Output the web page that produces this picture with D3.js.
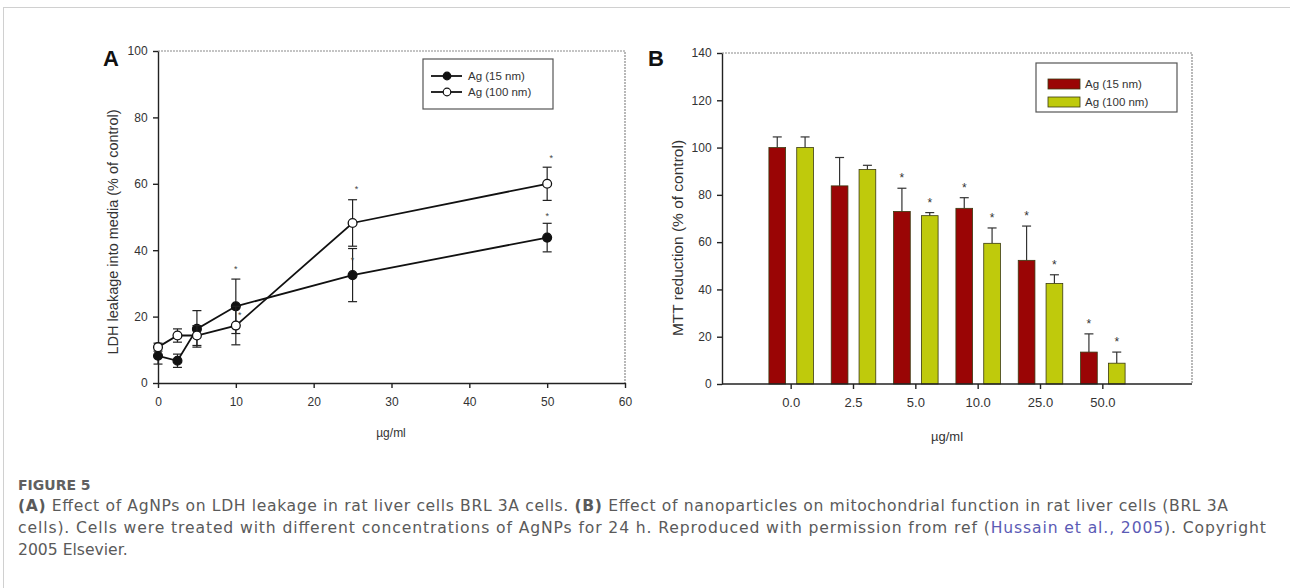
<!DOCTYPE html>
<html><head><meta charset="utf-8">
<script src="https://cdn.jsdelivr.net/npm/d3@7"></script>
<style>
body{margin:0;background:#fff;}
svg{display:block;}
</style></head>
<body>
<svg id="c" width="1290" height="588"></svg>
<script>
// ---------- Data: panel A (LDH leakage) ----------
const concA = [0, 2.5, 5, 10, 25, 50];
const ldh15 = [8.2, 6.7, 16.3, 23.1, 32.5, 43.8];
const ldh15Err = [2.5, 2.0, 5.5, 8.2, 8.0, 4.3];
const ldh100 = [10.8, 14.3, 14.3, 17.3, 48.2, 60.0];
const ldh100Err = [1.2, 2.0, 3.0, 5.8, 7.0, 5.0];
const ldh15Star = [null, null, null, 34.6, 37.3, 50.6];
const ldh100Star = [null, null, null, 20.9, 58.8, 68.0];
const xTicksA = [0, 10, 20, 30, 40, 50, 60];
const yTicksA = [0, 20, 40, 60, 80, 100];

// ---------- Data: panel B (MTT reduction) ----------
const catsB = ["0.0", "2.5", "5.0", "10.0", "25.0", "50.0"];
const mtt15 = [100, 83.8, 73.0, 74.3, 52.3, 13.5];
const mtt15Err = [4.5, 12.0, 9.8, 4.5, 14.5, 7.7];
const mtt100 = [100, 90.7, 71.2, 59.5, 42.5, 8.8];
const mtt100Err = [4.5, 1.8, 1.3, 6.5, 3.7, 4.7];
const mtt15Star = [false, false, true, true, true, true];
const mtt100Star = [false, false, true, true, true, true];
const yTicksB = [0, 20, 40, 60, 80, 100, 120, 140];
const seriesNames = ["Ag (15 nm)", "Ag (100 nm)"];

const svg = d3.select("#c");
const axisFont = "Liberation Sans, Arial, sans-serif";
const red = "#9a0505", green = "#bfca0c";

// page border
svg.append("line").attr("x1",3).attr("x2",1290).attr("y1",7.5).attr("y2",7.5).attr("stroke","#d0d0d0");
svg.append("line").attr("x1",3.5).attr("x2",3.5).attr("y1",7).attr("y2",588).attr("stroke","#d0d0d0");

// ================= Panel A =================
const xA = d3.scaleLinear().domain([0,60]).range([158,625]);
const yA = d3.scaleLinear().domain([0,100]).range([383,51]);
const gA = svg.append("g");

gA.append("path").attr("d",`M${xA(0)},${yA(100)}H${xA(60)}V${yA(0)}`)
  .attr("fill","none").attr("stroke","#8a8a8a").attr("stroke-width",1.2).attr("stroke-dasharray","2,1");

const axA = gA.append("g").attr("transform",`translate(0,${yA(0)})`)
  .call(d3.axisBottom(xA).tickValues(xTicksA).tickSize(5).tickSizeOuter(0));
const ayA = gA.append("g").attr("transform",`translate(${xA(0)},0)`)
  .call(d3.axisLeft(yA).tickValues(yTicksA).tickSize(5).tickSizeOuter(0));
[axA, ayA].forEach(a=>{
  a.selectAll("path,line").attr("stroke","#222").attr("stroke-width",1.4);
  a.selectAll("text").attr("font-family",axisFont).attr("font-size",12).attr("fill","#333");
});
axA.selectAll("text").attr("dy","1.25em");
ayA.selectAll("text").attr("dx","-0.2em");

gA.append("text").attr("x",391).attr("y",437).attr("text-anchor","middle")
  .attr("font-family",axisFont).attr("font-size",12).attr("fill","#333").text("µg/ml");
gA.append("text").attr("transform",`translate(118,232) rotate(-90)`)
  .attr("text-anchor","middle").attr("font-family",axisFont).attr("font-size",14.5).attr("fill","#333")
  .text("LDH leakage into media (% of control)");
gA.append("text").attr("x",103).attr("y",66).attr("font-family",axisFont).attr("font-weight","bold")
  .attr("font-size",22).attr("fill","#111").text("A");

function drawSeriesA(vals, errs, stars, filled, starDx){
  const pts = concA.map((c,i)=>({x:c,y:vals[i],e:errs[i],s:stars[i]}));
  pts.forEach(p=>{
    const cx = xA(p.x);
    gA.append("line").attr("x1",cx).attr("x2",cx).attr("y1",yA(p.y+p.e)).attr("y2",yA(p.y-p.e))
      .attr("stroke","#222").attr("stroke-width",1.2);
    [p.y+p.e,p.y-p.e].forEach(v=>gA.append("line").attr("x1",cx-4.5).attr("x2",cx+4.5)
      .attr("y1",yA(v)).attr("y2",yA(v)).attr("stroke","#222").attr("stroke-width",1.2));
    if(p.s!==null) gA.append("text").attr("x",cx+starDx).attr("y",yA(p.s)+4).attr("text-anchor","middle")
      .attr("font-family",axisFont).attr("font-size",9).attr("fill","#444").text("*");
  });
  gA.append("path").datum(pts).attr("fill","none").attr("stroke","#111").attr("stroke-width",1.8)
    .attr("d",d3.line().x(d=>xA(d.x)).y(d=>yA(d.y)));
  gA.selectAll(null).data(pts).enter().append("circle")
    .attr("cx",d=>xA(d.x)).attr("cy",d=>yA(d.y)).attr("r",4.4)
    .attr("fill",filled?"#111":"#fff").attr("stroke","#111").attr("stroke-width",1.3);
}
drawSeriesA(ldh15, ldh15Err, ldh15Star, true, 0);
drawSeriesA(ldh100, ldh100Err, ldh100Star, false, 4);

// legend A
const lgA = gA.append("g");
lgA.append("rect").attr("x",423).attr("y",59).attr("width",130).attr("height",50)
  .attr("fill","#fff").attr("stroke","#555").attr("stroke-width",1.2);
seriesNames.forEach((n,i)=>{
  const yy = 76 + i*16;
  lgA.append("line").attr("x1",431).attr("x2",462).attr("y1",yy).attr("y2",yy).attr("stroke","#111").attr("stroke-width",1.8);
  lgA.append("circle").attr("cx",447).attr("cy",yy).attr("r",3.8).attr("fill",i===0?"#111":"#fff")
    .attr("stroke","#111").attr("stroke-width",1.2);
  lgA.append("text").attr("x",468).attr("y",yy+4).attr("font-family",axisFont).attr("font-size",11.5)
    .attr("fill","#333").text(n);
});

// ================= Panel B =================
const yB = d3.scaleLinear().domain([0,140]).range([384,53]);
const xB = d3.scaleBand().domain(catsB).range([760,1134]);
const xSub = d3.scaleBand().domain([0,1]).range([0,xB.bandwidth()]).paddingInner(0.4).paddingOuter(0.32);
const gB = svg.append("g");
const bLeft = 722, bRight = 1192;

gB.append("path").attr("d",`M${bLeft},${yB(140)}H${bRight}V${yB(0)}`)
  .attr("fill","none").attr("stroke","#8a8a8a").attr("stroke-width",1.2).attr("stroke-dasharray","2,1");

const series = [
  {vals:mtt15, errs:mtt15Err, stars:mtt15Star, color:red},
  {vals:mtt100, errs:mtt100Err, stars:mtt100Star, color:green}
];
series.forEach((s,si)=>{
  catsB.forEach((c,i)=>{
    const x0 = xB(c) + xSub(si), w = xSub.bandwidth(), cx = x0 + w/2;
    const top = s.vals[i] + s.errs[i];
    gB.append("line").attr("x1",cx).attr("x2",cx).attr("y1",yB(top)).attr("y2",yB(s.vals[i]))
      .attr("stroke","#333").attr("stroke-width",1.2);
    gB.append("line").attr("x1",cx-4.5).attr("x2",cx+4.5).attr("y1",yB(top)).attr("y2",yB(top))
      .attr("stroke","#333").attr("stroke-width",1.2);
    gB.append("rect").attr("x",x0).attr("y",yB(s.vals[i])).attr("width",w).attr("height",yB(0)-yB(s.vals[i]))
      .attr("fill",s.color).attr("stroke","#3a3a10").attr("stroke-width",0.8);
    if(s.stars[i]) gB.append("text").attr("x",cx).attr("y",yB(top)-6).attr("text-anchor","middle")
      .attr("font-family",axisFont).attr("font-size",12).attr("fill","#333").text("*");
  });
});

gB.append("line").attr("x1",bLeft).attr("x2",bRight).attr("y1",yB(0)).attr("y2",yB(0))
  .attr("stroke","#222").attr("stroke-width",1.4);
const axB = gB.append("g").attr("transform",`translate(0,${yB(0)})`)
  .call(d3.axisBottom(xB).tickSize(5).tickSizeOuter(0));
axB.select(".domain").remove();
const ayB = gB.append("g").attr("transform",`translate(${bLeft},0)`)
  .call(d3.axisLeft(yB).tickValues(yTicksB).tickSize(5).tickSizeOuter(0));
[axB, ayB].forEach(a=>{
  a.selectAll("path,line").attr("stroke","#222").attr("stroke-width",1.4);
  a.selectAll("text").attr("font-family",axisFont).attr("font-size",12).attr("fill","#333");
});
axB.selectAll("text").attr("font-size",13).attr("dy","1.15em");
ayB.selectAll("text").attr("dx","-0.2em");

gB.append("text").attr("x",947).attr("y",441).attr("text-anchor","middle")
  .attr("font-family",axisFont).attr("font-size",13).attr("fill","#333").text("µg/ml");
gB.append("text").attr("transform",`translate(683,238) rotate(-90)`)
  .attr("text-anchor","middle").attr("font-family",axisFont).attr("font-size",15.5).attr("fill","#333")
  .text("MTT reduction (% of control)");
gB.append("text").attr("x",648).attr("y",66).attr("font-family",axisFont).attr("font-weight","bold")
  .attr("font-size",22).attr("fill","#111").text("B");

// legend B
const lgB = gB.append("g");
lgB.append("rect").attr("x",1036).attr("y",63).attr("width",141).attr("height",49)
  .attr("fill","#fff").attr("stroke","#555").attr("stroke-width",1.2);
[red, green].forEach((col,i)=>{
  const yy = 84 + i*18;
  lgB.append("rect").attr("x",1048).attr("y",yy-5).attr("width",32).attr("height",10)
    .attr("fill",col).attr("stroke","#3a3a10").attr("stroke-width",0.8);
  lgB.append("text").attr("x",1085).attr("y",yy+4).attr("font-family",axisFont).attr("font-size",11.5)
    .attr("fill","#333").text(seriesNames[i]);
});

// ================= Caption =================
const capFont = "'DejaVu Sans', 'Open Sans', sans-serif";
const cap = svg.append("g").attr("font-family",capFont).attr("fill","#5a5a5a");
cap.append("text").attr("x",18).attr("y",490).attr("font-size",14).attr("font-weight","700")
  .attr("fill","#606060").text("FIGURE 5");
const t1 = cap.append("text").attr("x",18).attr("y",511).attr("font-size",15.6).attr("textLength",1210);
t1.append("tspan").attr("font-weight","700").text("(A)");
t1.append("tspan").text(" Effect of AgNPs on LDH leakage in rat liver cells BRL 3A cells. ");
t1.append("tspan").attr("font-weight","700").text("(B)");
t1.append("tspan").text(" Effect of nanoparticles on mitochondrial function in rat liver cells (BRL 3A");
const t2 = cap.append("text").attr("x",18).attr("y",533).attr("font-size",15.6).attr("textLength",1248);
t2.append("tspan").text("cells). Cells were treated with different concentrations of AgNPs for 24 h. Reproduced with permission from ref (");
t2.append("tspan").attr("fill","#5b5bb5").text("Hussain et al., 2005");
t2.append("tspan").text("). Copyright");
cap.append("text").attr("x",18).attr("y",555).attr("font-size",15.6).text("2005 Elsevier.");
</script>
</body></html>
